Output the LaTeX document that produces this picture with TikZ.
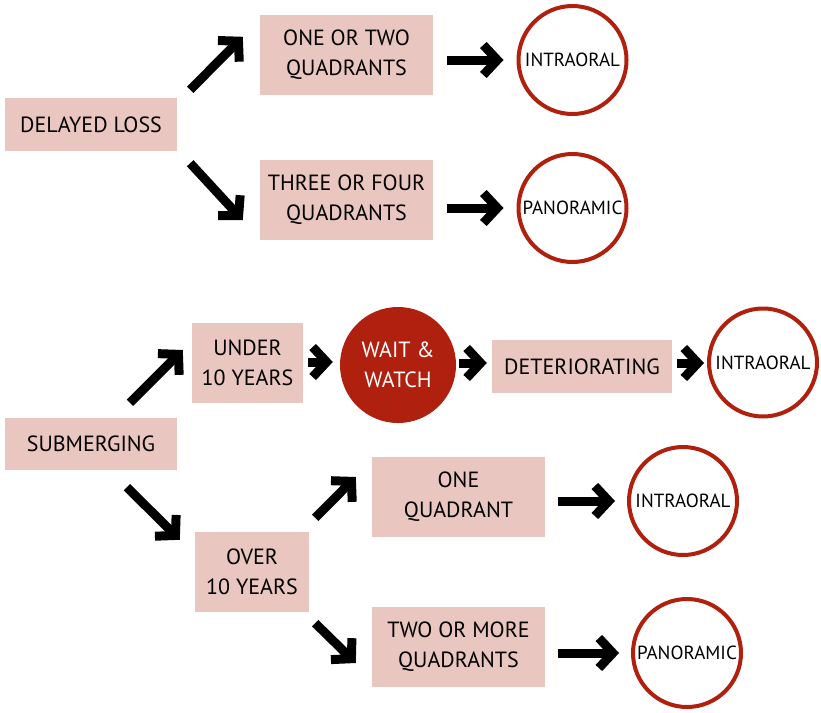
\documentclass[tikz,border=0pt]{standalone}
\usepackage{fontspec}
\setmainfont{PT Sans}
\usetikzlibrary{arrows.meta}
\definecolor{boxpink}{HTML}{E9C6C0}
\definecolor{ringred}{HTML}{B0200E}
\tikzset{
  stage/.style={fill=boxpink, inner sep=0pt, align=center, font=\fontsize{22}{30}\selectfont},
  film/.style={circle, draw=ringred, line width=4pt, fill=white, minimum size=108pt, inner sep=0pt, font=\fontsize{19}{24}\selectfont},
  waitnode/.style={circle, fill=ringred, text=white, minimum size=116pt, inner sep=0pt, align=center, font=\fontsize{22}{30}\selectfont},
  bigarrow/.style={line width=9pt, -{Straight Barb[length=14pt,width=30pt]}}
}
\begin{document}
\begin{tikzpicture}[x=1pt,y=-1pt]
  \useasboundingbox (0,0) rectangle (821,712);

  % Delayed loss
  \node[stage, minimum width=172pt, minimum height=53pt] (dl) at (91,124.5) {DELAYED LOSS};
  \node[stage, minimum width=173pt, minimum height=80pt] (oot) at (346.5,55) {ONE OR TWO\\QUADRANTS};
  \node[stage, minimum width=173pt, minimum height=80pt] (tof) at (346.5,200) {THREE OR FOUR\\QUADRANTS};
  \node[film] (c1) at (572.5,60) {INTRAORAL};
  \node[film] (c2) at (572.5,208) {PANORAMIC};

  % Submerging
  \node[stage, minimum width=172pt, minimum height=52pt] (sub) at (91,444) {SUBMERGING};
  \node[stage, minimum width=111pt, minimum height=80pt] (u10) at (247.5,363) {UNDER\\10 YEARS};
  \node[waitnode] (ww) at (398,365) {WAIT \&\\WATCH};
  \node[stage, minimum width=180pt, minimum height=53pt] (det) at (582,366.5) {DETERIORATING};
  \node[film] (c3) at (763,362.5) {INTRAORAL};
  \node[stage, minimum width=114pt, minimum height=80pt] (o10) at (252,572) {OVER\\10 YEARS};
  \node[stage, minimum width=173pt, minimum height=80pt] (oneq) at (458.5,497) {ONE\\QUADRANT};
  \node[stage, minimum width=173pt, minimum height=80pt] (twoq) at (458.5,647) {TWO OR MORE\\QUADRANTS};
  \node[film] (c4) at (683,501) {INTRAORAL};
  \node[film] (c5) at (687,653) {PANORAMIC};

  % Arrows
  \draw[bigarrow] ([shift={(13,-8)}]dl.north east) -- ([shift={(-17,22)}]oot.north west);
  \draw[bigarrow] ([shift={(13,12)}]dl.south east) -- ([shift={(-17,-20)}]tof.south west);
  \draw[bigarrow, shorten <=14pt, shorten >=13pt] (oot.east |- c1) -- (c1);
  \draw[bigarrow, shorten <=14pt, shorten >=13pt] (tof.east |- c2) -- (c2);

  \draw[bigarrow] ([shift={(39,-15)}]sub.north) -- ([shift={(-9,-13)}]u10.west);
  \draw[bigarrow] ([shift={(36,17)}]sub.south) -- ([shift={(-15,8)}]o10.north west);
  \draw[bigarrow, shorten <=5pt, shorten >=7pt] (u10.east |- 0,362) -- (ww.west |- 0,362);
  \draw[bigarrow, shorten <=3pt, shorten >=5pt] (ww.east |- 0,363) -- (det.west |- 0,363);
  \draw[bigarrow, shorten <=5pt, shorten >=3pt] (det.east |- 0,363) -- (c3.west |- 0,363);
  \draw[bigarrow] ([shift={(6,-14)}]o10.north east) -- ([shift={(-16,-20)}]oneq.west);
  \draw[bigarrow] ([shift={(6,11)}]o10.south east) -- ([shift={(-16,16)}]twoq.west);
  \draw[bigarrow, shorten <=13pt, shorten >=12pt] (oneq.east |- c4) -- (c4);
  \draw[bigarrow, shorten <=13pt, shorten >=12pt] (twoq.east |- c5) -- (c5);
\end{tikzpicture}
\end{document}
